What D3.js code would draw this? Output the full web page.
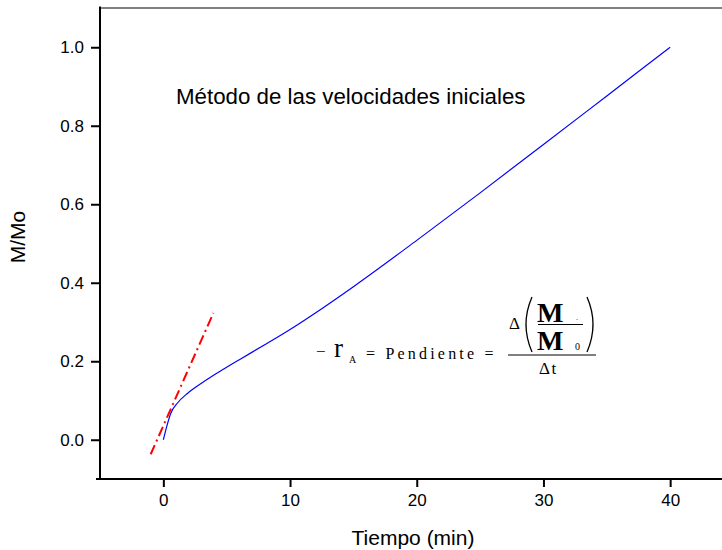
<!DOCTYPE html>
<html>
<head>
<meta charset="utf-8">
<title>Método de las velocidades iniciales</title>
<script src="https://cdn.jsdelivr.net/npm/d3@7/dist/d3.min.js"></script>
<style>
  * { margin:0; padding:0; }
  body { background:#fff; overflow:hidden; }
  svg text { font-family: "Liberation Sans", Arial, sans-serif; }
  .formula text { font-family: "Liberation Serif", "Times New Roman", serif; }
</style>
</head>
<body>
<div id="show"></div>
<script>
// curva M/Mo frente al tiempo
var tiempo = [0, 0.26, 0.58, 1.1, 1.9, 2.6, 3.5, 4.8, 6.1, 8, 10, 12.5, 15, 20, 25, 30, 35, 40];
var mmo    = [0, 0.033, 0.067, 0.093, 0.118, 0.135, 0.155, 0.181, 0.206, 0.242, 0.281, 0.334, 0.39, 0.508, 0.629, 0.752, 0.876, 1.0];
// recta tangente (pendiente inicial)
var tanT = [-1, 3.95];
var tanY = [-0.037, 0.323];

var xTicks = [0, 10, 20, 30, 40];
var xMinor = [-5, 5, 15, 25, 35, 45];
var yTicks = [0.0, 0.2, 0.4, 0.6, 0.8, 1.0];
var yMinor = [-0.1, 0.1, 0.3, 0.5, 0.7, 0.9, 1.1];

var W = 722, H = 550;
var svg = d3.select("#show").append("svg").attr("width", W).attr("height", H);

var x = d3.scaleLinear().domain([-5, 45]).range([100, 733.5]);
var y = d3.scaleLinear().domain([-0.1, 1.1]).range([479, 8]);

// marco superior gris
svg.append("line").attr("x1", x(-5)).attr("x2", W).attr("y1", y(1.1)).attr("y2", y(1.1))
   .attr("stroke", "#808080").attr("stroke-width", 2);

// eje x
var gx = svg.append("g").attr("transform", "translate(0," + y(-0.1) + ")");
gx.call(d3.axisBottom(x).tickValues(xMinor).tickSize(5).tickFormat(""));
gx.call(d3.axisBottom(x).tickValues(xTicks).tickSize(8).tickPadding(7).tickFormat(d3.format("d")));
gx.selectAll("path.domain").remove();
gx.append("line").attr("x1", 96).attr("x2", W).attr("stroke", "#000").attr("stroke-width", 2);
gx.selectAll(".tick line").attr("stroke", "#000").attr("stroke-width", 2);
gx.selectAll(".tick text").attr("font-size", 17).attr("fill", "#000")
  .attr("font-family", "Liberation Sans, Arial, sans-serif");

// eje y
var gy = svg.append("g").attr("transform", "translate(" + x(-5) + ",0)");
gy.call(d3.axisLeft(y).tickValues(yMinor).tickSize(5).tickFormat(""));
gy.call(d3.axisLeft(y).tickValues(yTicks).tickSize(9).tickPadding(7).tickFormat(d3.format(".1f")));
gy.selectAll("path.domain").remove();
gy.append("line").attr("y1", 6.5).attr("y2", 480).attr("stroke", "#000").attr("stroke-width", 2);
gy.selectAll(".tick line").attr("stroke", "#000").attr("stroke-width", 2);
gy.selectAll(".tick text").attr("font-size", 17).attr("fill", "#000")
  .attr("font-family", "Liberation Sans, Arial, sans-serif");

// etiquetas de ejes
svg.append("text").attr("x", 413).attr("y", 545).attr("text-anchor", "middle")
   .attr("font-size", 21).text("Tiempo (min)");
svg.append("text").attr("transform", "translate(25,237) rotate(-90)").attr("text-anchor", "middle")
   .attr("font-size", 21).text("M/Mo");

// curvas
var pts = tiempo.map(function(t, i){ return [t, mmo[i]]; });
var line = d3.line().x(function(d){ return x(d[0]); }).y(function(d){ return y(d[1]); })
             .curve(d3.curveMonotoneX);
svg.append("path").datum(pts).attr("d", line)
   .attr("fill", "none").attr("stroke", "#0000ff").attr("stroke-width", 1.2);

var tan = tanT.map(function(t, i){ return [t, tanY[i]]; });
svg.append("path").datum(tan).attr("d", d3.line().x(function(d){ return x(d[0]); }).y(function(d){ return y(d[1]); }))
   .attr("fill", "none").attr("stroke", "#ff0000").attr("stroke-width", 2)
   .attr("stroke-dasharray", "10,4,2,4");

// titulo
svg.append("text").attr("x", 176).attr("y", 104).attr("font-size", 22.3).text("Método de las velocidades iniciales");

// formula
var f = svg.append("g").attr("class", "formula");
f.append("text").attr("x", 316).attr("y", 357).attr("font-size", 17).text("\u2212");
f.append("text").attr("x", 334).attr("y", 357).attr("font-size", 27).text("r");
f.append("text").attr("x", 349).attr("y", 363).attr("font-size", 10).text("A");
f.append("text").attr("x", 366).attr("y", 359).attr("font-size", 16).attr("letter-spacing", 3.2)
 .text("= Pendiente =");
f.append("text").attr("x", 509).attr("y", 329).attr("font-size", 17).text("\u0394");
f.append("path").attr("d", "M532,297 Q520,324.5 532,352").attr("fill", "none").attr("stroke", "#000").attr("stroke-width", 1.3);
f.append("path").attr("d", "M587,297 Q599,324.5 587,352").attr("fill", "none").attr("stroke", "#000").attr("stroke-width", 1.3);
f.append("text").attr("x", 537).attr("y", 322).attr("font-size", 28).attr("font-weight", "bold").text("M");
f.append("text").attr("x", 576).attr("y", 320).attr("font-size", 8).text(".");
f.append("line").attr("x1", 538).attr("x2", 583).attr("y1", 324.5).attr("y2", 324.5).attr("stroke", "#000").attr("stroke-width", 1);
f.append("text").attr("x", 537).attr("y", 350).attr("font-size", 28).attr("font-weight", "bold").text("M");
f.append("text").attr("x", 575).attr("y", 350).attr("font-size", 10).text("0");
f.append("line").attr("x1", 508).attr("x2", 596).attr("y1", 355).attr("y2", 355).attr("stroke", "#000").attr("stroke-width", 1);
f.append("text").attr("x", 539).attr("y", 374).attr("font-size", 17).attr("letter-spacing", 1.5).text("\u0394t");
</script>
</body>
</html>
